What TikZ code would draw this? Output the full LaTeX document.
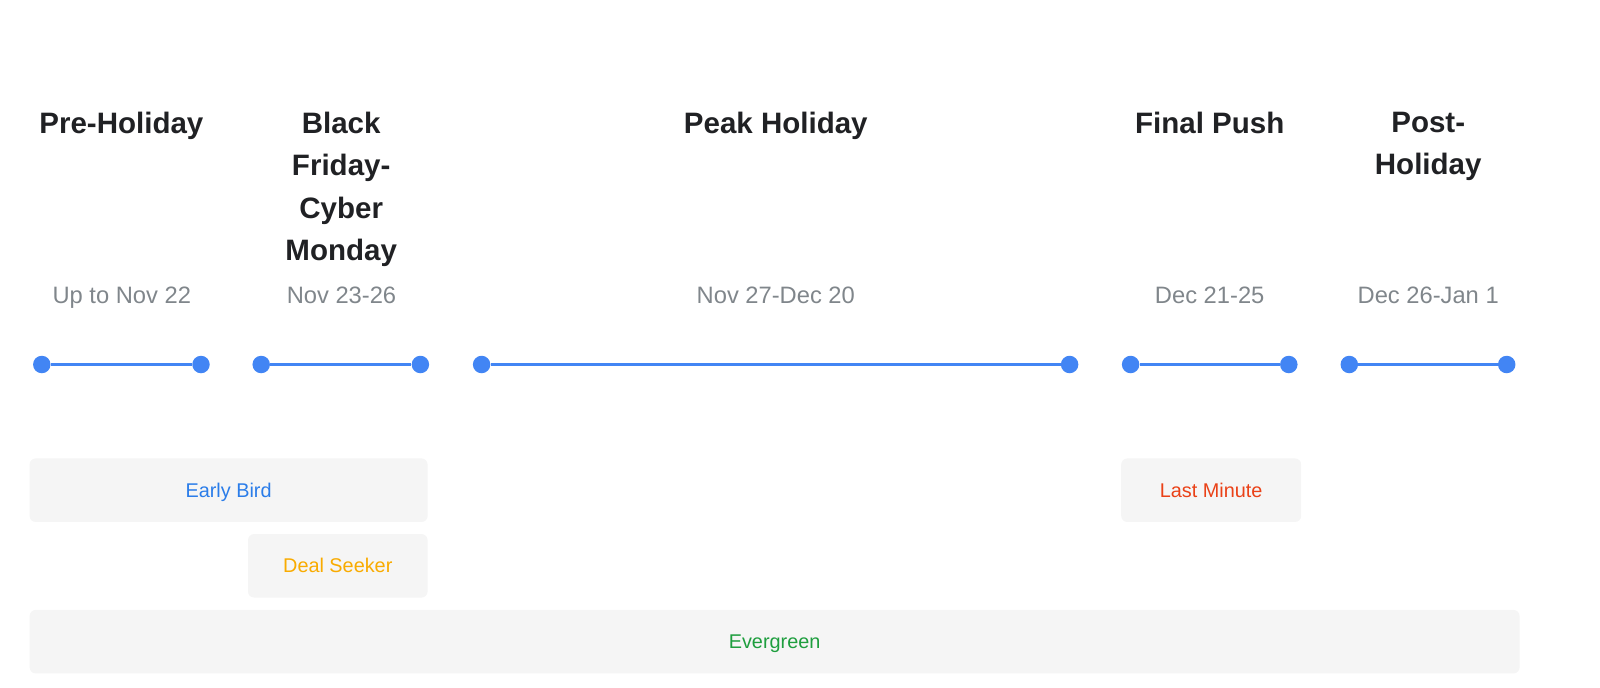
\documentclass[tikz,border=0pt]{standalone}
\usepackage{fontspec}
\setmainfont{Liberation Sans}
\usepackage{tikz}
\definecolor{tline}{HTML}{4285F4}
\definecolor{ttitle}{HTML}{202124}
\definecolor{tdate}{HTML}{80868B}
\definecolor{tbox}{HTML}{F5F5F5}
\definecolor{cblue}{HTML}{2B7DE9}
\definecolor{cyellow}{HTML}{F9AB00}
\definecolor{cred}{HTML}{EA4117}
\definecolor{cgreen}{HTML}{1E9E3E}

\begin{document}
\begin{tikzpicture}[x=0.02cm, y=-0.02cm,
	phase/.style={anchor=north, inner sep=0, align=center, text=ttitle, font=\fontsize{16.8}{24.2}\selectfont\bfseries},
	datespan/.style={anchor=base, inner sep=0, text=tdate, font=\fontsize{13.5}{16}\selectfont},
	dot/.style={circle, fill=tline, inner sep=0, minimum size=0.35cm},
	seg/.style={fill=tbox, rounded corners=0.12cm, minimum height=1.27cm, inner sep=0, text height=8.1pt, text depth=0pt, font=\fontsize{11.3}{14}\selectfont}]
		
		\useasboundingbox (0,0) rectangle (1600,687);
		
		% phases
		\node[phase] (pre) at (121.4,111.5) {Pre-Holiday};
		\node[phase] (bfcm) at (341.2,111.5) {Black\\Friday-\\Cyber\\Monday};
		\node[phase] (peak) at (775.8,111.5) {Peak Holiday};
		\node[phase] (final) at (1209.7,111.5) {Final Push};
		\node[phase] (post) at (1428.2,111.5) {Post-\\Holiday};
		
		\node[datespan] (pre-d) at (121.8,303.3) {Up to Nov 22};
		\node[datespan] (bfcm-d) at (341.5,303.3) {Nov 23-26};
		\node[datespan] (peak-d) at (775.8,303.3) {Nov 27-Dec 20};
		\node[datespan] (final-d) at (1209.7,303.3) {Dec 21-25};
		\node[datespan] (post-d) at (1428.2,303.3) {Dec 26-Jan 1};
		
		% timeline
		\node[dot] (pre-a) at (41.8,364.5) {};
		\node[dot] (pre-b) at (201,364.5) {};
		\node[dot] (bfcm-a) at (261.2,364.5) {};
		\node[dot] (bfcm-b) at (420.4,364.5) {};
		\node[dot] (peak-a) at (481.6,364.5) {};
		\node[dot] (peak-b) at (1069.6,364.5) {};
		\node[dot] (final-a) at (1130.6,364.5) {};
		\node[dot] (final-b) at (1288.8,364.5) {};
		\node[dot] (post-a) at (1349.3,364.5) {};
		\node[dot] (post-b) at (1506.7,364.5) {};
		
		\draw[tline, line width=1.5pt] (pre-a) -- (pre-b);
		\draw[tline, line width=1.5pt] (bfcm-a) -- (bfcm-b);
		\draw[tline, line width=1.5pt] (peak-a) -- (peak-b);
		\draw[tline, line width=1.5pt] (final-a) -- (final-b);
		\draw[tline, line width=1.5pt] (post-a) -- (post-b);
		
		% shoppers
		\node[seg, minimum width=7.962cm, text=cblue] (early) at (228.6,490.2) {Early Bird};
		\node[seg, minimum width=3.592cm, text=cyellow] (deal) at (337.8,565.8) {Deal Seeker};
		\node[seg, minimum width=3.6cm, text=cred] (last) at (1211.2,490.2) {Last Minute};
		\node[seg, minimum width=29.804cm, text=cgreen] (ever) at (774.6,641.7) {Evergreen};
		
		\end{tikzpicture}
\end{document}
